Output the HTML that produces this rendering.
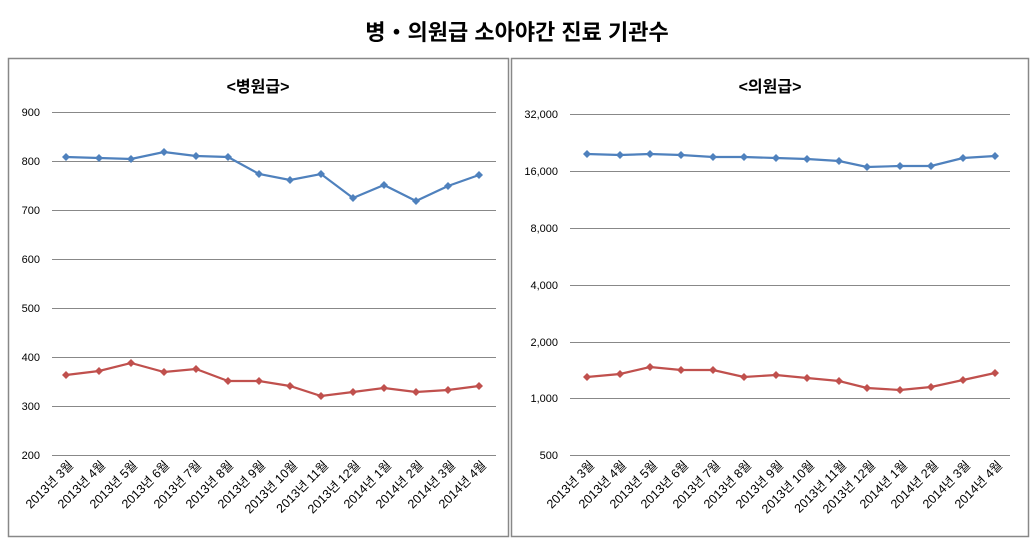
<!DOCTYPE html>
<html><head><meta charset="utf-8"><style>
body{margin:0;background:#fff;}
svg{display:block;font-family:"Liberation Sans","Noto Sans CJK KR",sans-serif;}
</style></head><body>
<svg width="1035" height="541" viewBox="0 0 1035 541" xmlns="http://www.w3.org/2000/svg">
<defs>
<marker id="mb" markerWidth="8" markerHeight="8" refX="4" refY="4" markerUnits="userSpaceOnUse"><path d="M4,0 L8,4 L4,8 L0,4 Z" fill="#4F81BD"/></marker>
<marker id="mr" markerWidth="8" markerHeight="8" refX="4" refY="4" markerUnits="userSpaceOnUse"><path d="M4,0 L8,4 L4,8 L0,4 Z" fill="#C0504D"/></marker>
</defs>
<text x="517" y="40" text-anchor="middle" font-size="22" font-weight="bold" fill="#000">병・의원급 소아야간 진료 기관수</text>
<rect x="8.5" y="58.5" width="500" height="478" fill="none" stroke="#888" stroke-width="1.5"/>
<rect x="511.5" y="58.5" width="517" height="478" fill="none" stroke="#888" stroke-width="1.5"/>
<text x="258" y="92" text-anchor="middle" font-size="16" font-weight="bold">&lt;병원급&gt;</text>
<text x="770" y="92" text-anchor="middle" font-size="16" font-weight="bold">&lt;의원급&gt;</text>
<g stroke="#888" stroke-width="1">
<line x1="52" x2="496" y1="112.5" y2="112.5"/><line x1="52" x2="496" y1="161.5" y2="161.5"/>
<line x1="52" x2="496" y1="210.5" y2="210.5"/><line x1="52" x2="496" y1="259.5" y2="259.5"/>
<line x1="52" x2="496" y1="308.5" y2="308.5"/><line x1="52" x2="496" y1="357.5" y2="357.5"/>
<line x1="52" x2="496" y1="406.5" y2="406.5"/><line x1="52" x2="496" y1="455.5" y2="455.5"/>
<line x1="570" x2="1010" y1="114.5" y2="114.5"/><line x1="570" x2="1010" y1="171.5" y2="171.5"/>
<line x1="570" x2="1010" y1="228.5" y2="228.5"/><line x1="570" x2="1010" y1="285.5" y2="285.5"/>
<line x1="570" x2="1010" y1="342.5" y2="342.5"/><line x1="570" x2="1010" y1="398.5" y2="398.5"/>
<line x1="570" x2="1010" y1="455.5" y2="455.5"/>
</g>
<g font-size="11" fill="#000" text-anchor="end">
<text x="40" y="116">900</text><text x="40" y="165">800</text><text x="40" y="214">700</text><text x="40" y="263">600</text>
<text x="40" y="312">500</text><text x="40" y="361">400</text><text x="40" y="410">300</text><text x="40" y="459">200</text>
<text x="558" y="118">32,000</text><text x="558" y="175">16,000</text><text x="558" y="232">8,000</text><text x="558" y="289">4,000</text>
<text x="558" y="346">2,000</text><text x="558" y="402">1,000</text><text x="558" y="459">500</text>
</g>
<g fill="none" stroke-width="2.2">
<polyline stroke="#4F81BD" marker-start="url(#mb)" marker-mid="url(#mb)" marker-end="url(#mb)" points="66,157 99,158 131,159 164,152 196,156 228,157 259,174 290,180 321,174 353,198 384,185 416,201 448,186 479,175"/>
<polyline stroke="#C0504D" marker-start="url(#mr)" marker-mid="url(#mr)" marker-end="url(#mr)" points="66,375 99,371 131,363 164,372 196,369 228,381 259,381 290,386 321,396 353,392 384,388 416,392 448,390 479,386"/>
<polyline stroke="#4F81BD" marker-start="url(#mb)" marker-mid="url(#mb)" marker-end="url(#mb)" points="587,154 620,155 650,154 681,155 713,157 744,157 776,158 807,159 839,161 867,167 900,166 931,166 963,158 995,156"/>
<polyline stroke="#C0504D" marker-start="url(#mr)" marker-mid="url(#mr)" marker-end="url(#mr)" points="587,377 620,374 650,367 681,370 713,370 744,377 776,375 807,378 839,381 867,388 900,390 931,387 963,380 995,373"/>
</g>
<g font-size="12.5" fill="#000" text-anchor="end">
<text transform="translate(74,466) rotate(-45)">2013년 3월</text>
<text transform="translate(106,466) rotate(-45)">2013년 4월</text>
<text transform="translate(138,466) rotate(-45)">2013년 5월</text>
<text transform="translate(170,466) rotate(-45)">2013년 6월</text>
<text transform="translate(202,466) rotate(-45)">2013년 7월</text>
<text transform="translate(234,466) rotate(-45)">2013년 8월</text>
<text transform="translate(266,466) rotate(-45)">2013년 9월</text>
<text transform="translate(298,466) rotate(-45)">2013년 10월</text>
<text transform="translate(329,466) rotate(-45)">2013년 11월</text>
<text transform="translate(361,466) rotate(-45)">2013년 12월</text>
<text transform="translate(392,466) rotate(-45)">2014년 1월</text>
<text transform="translate(424,466) rotate(-45)">2014년 2월</text>
<text transform="translate(456,466) rotate(-45)">2014년 3월</text>
<text transform="translate(487,466) rotate(-45)">2014년 4월</text>
<text transform="translate(595,466) rotate(-45)">2013년 3월</text>
<text transform="translate(627,466) rotate(-45)">2013년 4월</text>
<text transform="translate(658,466) rotate(-45)">2013년 5월</text>
<text transform="translate(689,466) rotate(-45)">2013년 6월</text>
<text transform="translate(721,466) rotate(-45)">2013년 7월</text>
<text transform="translate(752,466) rotate(-45)">2013년 8월</text>
<text transform="translate(784,466) rotate(-45)">2013년 9월</text>
<text transform="translate(815,466) rotate(-45)">2013년 10월</text>
<text transform="translate(847,466) rotate(-45)">2013년 11월</text>
<text transform="translate(876,466) rotate(-45)">2013년 12월</text>
<text transform="translate(908,466) rotate(-45)">2014년 1월</text>
<text transform="translate(939,466) rotate(-45)">2014년 2월</text>
<text transform="translate(971,466) rotate(-45)">2014년 3월</text>
<text transform="translate(1003,466) rotate(-45)">2014년 4월</text>
</g>
</svg>
</body></html>
